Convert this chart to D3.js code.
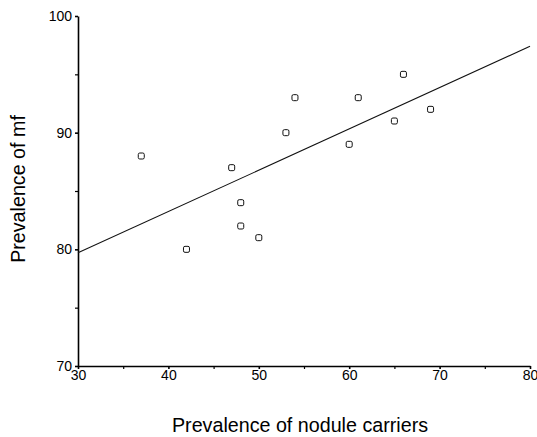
<!DOCTYPE html>
<html>
<head>
<meta charset="utf-8">
<script src="https://cdn.jsdelivr.net/npm/d3@7"></script>
<style>
  body { margin: 0; background: #fff; }
  text { font-family: "Liberation Sans", Arial, sans-serif; fill: #000; }
</style>
</head>
<body>
<script>
var width = 537,
    height = 437;

var margin = {top: 16, right: 7, bottom: 71, left: 78};

// nodule carriers (%) vs mf prevalence (%)
var noduleCarriers = [37, 42, 47, 48, 48, 50, 53, 54, 60, 61, 65, 66, 69];
var mfPrevalence   = [88, 80, 87, 84, 82, 81, 90, 93, 89, 93, 91, 95, 92];

// fitted line at both ends
var fitX = [30, 80];
var fitY = [79.7, 97.4];

var xTicks = [30, 40, 50, 60, 70, 80];
var xMinor = [35, 45, 55, 65, 75];
var yTicks = [70, 80, 90, 100];
var yMinor = [75, 85, 95];

var svg = d3.select("body").append("svg")
    .attr("width", width)
    .attr("height", height);

var xScale = d3.scaleLinear()
    .domain([30, 80])
    .range([margin.left, width - margin.right]);

var yScale = d3.scaleLinear()
    .domain([70, 100])
    .range([height - margin.bottom, margin.top]);

var x0 = height - margin.bottom;

// minor ticks first, then main axes on top
svg.append("g")
    .attr("transform", "translate(0," + x0 + ")")
    .call(d3.axisBottom(xScale).tickValues(xMinor).tickSize(3).tickFormat(""))
    .call(function(g) { g.select(".domain").remove(); })
    .selectAll("line").attr("stroke-width", 1.2);

svg.append("g")
    .attr("transform", "translate(" + margin.left + ",0)")
    .call(d3.axisLeft(yScale).tickValues(yMinor).tickSize(3).tickFormat(""))
    .call(function(g) { g.select(".domain").remove(); })
    .selectAll("line").attr("stroke-width", 1.2);

var axisX = svg.append("g")
    .attr("transform", "translate(0," + x0 + ")")
    .call(d3.axisBottom(xScale).tickValues(xTicks).tickSize(3).tickSizeOuter(0).tickPadding(1));

var axisY = svg.append("g")
    .attr("transform", "translate(" + margin.left + ",0)")
    .call(d3.axisLeft(yScale).tickValues(yTicks).tickSize(3).tickSizeOuter(0).tickPadding(3));

[axisX, axisY].forEach(function(a) {
    a.select(".domain").attr("stroke-width", 1.6);
    a.selectAll(".tick line").attr("stroke-width", 1.6);
    a.selectAll("text")
        .style("font-size", "14px")
        .style("font-family", "'Liberation Sans', Arial, sans-serif")
        .attr("fill", "#000");
});

// regression line
var fitData = fitX.map(function(x, i) { return {x: x, y: fitY[i]}; });
svg.append("path")
    .datum(fitData)
    .attr("fill", "none")
    .attr("stroke", "#111")
    .attr("stroke-width", 1.1)
    .attr("d", d3.line()
        .x(function(d) { return xScale(d.x); })
        .y(function(d) { return yScale(d.y); }));

// points as small open squares
var pts = noduleCarriers.map(function(x, i) { return {x: x, y: mfPrevalence[i]}; });
svg.selectAll("rect.pt")
    .data(pts)
    .enter().append("rect")
    .attr("class", "pt")
    .attr("x", function(d) { return xScale(d.x) - 3; })
    .attr("y", function(d) { return yScale(d.y) - 3; })
    .attr("width", 6)
    .attr("height", 6)
    .attr("rx", 1.5)
    .attr("fill", "#fff")
    .attr("stroke", "#111")
    .attr("stroke-width", 1);

// axis titles
svg.append("text")
    .attr("x", 300)
    .attr("y", 432)
    .attr("text-anchor", "middle")
    .style("font-size", "19.7px")
    .text("Prevalence of nodule carriers");

svg.append("text")
    .attr("transform", "translate(25,189) rotate(-90)")
    .attr("text-anchor", "middle")
    .style("font-size", "19.7px")
    .text("Prevalence of mf");
</script>
</body>
</html>
